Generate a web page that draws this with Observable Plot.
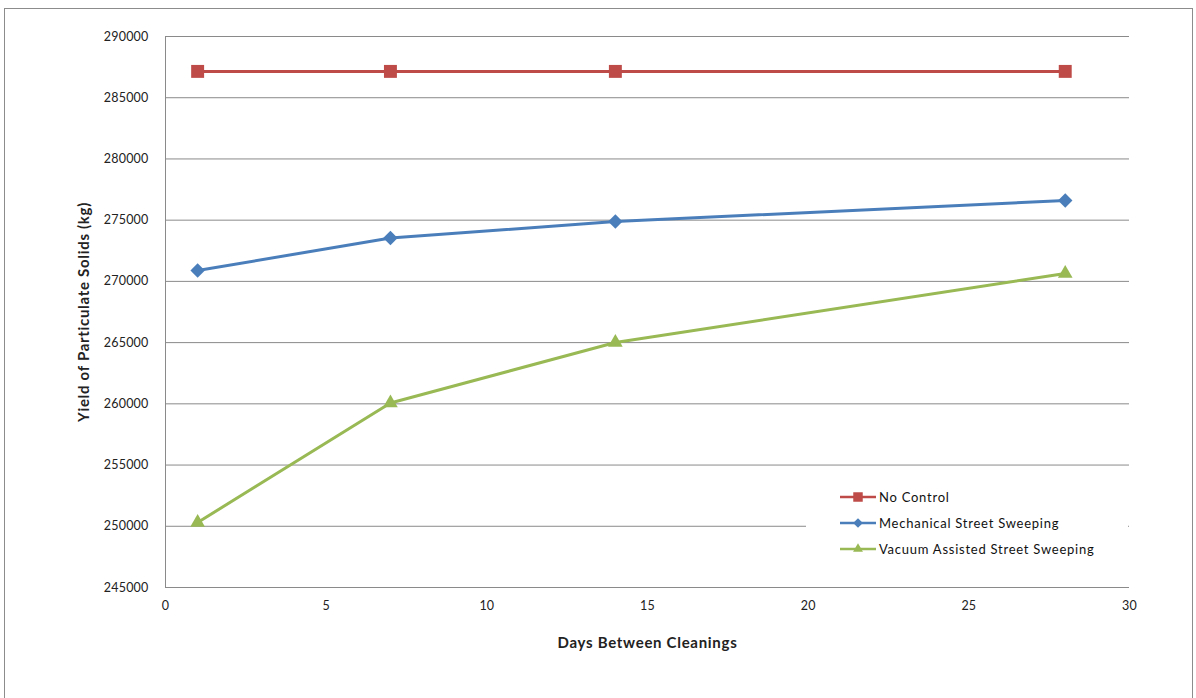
<!DOCTYPE html>
<html>
<head>
<meta charset="utf-8">
<script src="https://cdn.jsdelivr.net/npm/d3@7"></script>
<script src="https://cdn.jsdelivr.net/npm/@observablehq/plot@0.6"></script>
<style>
  html, body { margin: 0; padding: 0; background: #fff; }
  #wrap { position: relative; width: 1196px; height: 698px; overflow: hidden; font-family: Lato, "Open Sans", sans-serif; }
  #border { position: absolute; left: 4px; top: 8px; width: 1189px; height: 700px; border: 1px solid #8c8c8c; box-sizing: border-box; pointer-events: none; }
  #chart svg { display: block; }
  #chart [aria-label="x-axis label"] text, #chart [aria-label="y-axis label"] text { font-weight: bold; font-size: 15px; letter-spacing: 0.7px; }
  #chart [aria-label="x-axis tick label"] text, #chart [aria-label="y-axis tick label"] text { letter-spacing: 0.2px; }
  #legend { position: absolute; left: 806px; top: 480px; width: 322px; height: 82px; background: #fff; }
  .item { position: absolute; left: 34px; height: 20px; display: flex; align-items: center; font-size: 13px; letter-spacing: 0.75px; color: #111; }
  .item svg { margin-right: 3px; }
</style>
</head>
<body>
<div id="wrap">
  <div id="chart"></div>
  <div id="legend"></div>
  <div id="border"></div>
</div>
<script>
// Days between street cleanings
const days = [1, 7, 14, 28];
// Yield of particulate solids (kg) for each control strategy
const noControl = [287150, 287150, 287150, 287150];
const mechanical = [270890, 273540, 274890, 276610];
const vacuum = [250310, 260070, 265010, 270640];

const seriesNames = ["No Control", "Mechanical Street Sweeping", "Vacuum Assisted Street Sweeping"];
const seriesColors = ["#BE4B48", "#4A7EBB", "#98B954"];
const seriesSymbols = ["square", "diamond2", "triangle2"];
const seriesValues = [noControl, mechanical, vacuum];

const xTicks = [0, 5, 10, 15, 20, 25, 30];
const yTicks = [245000, 250000, 255000, 260000, 265000, 270000, 275000, 280000, 285000, 290000];

const rows = seriesNames.flatMap((name, i) =>
  days.map((d, j) => ({series: name, days: d, kg: seriesValues[i][j]}))
);

const marks = [
  Plot.ruleY(yTicks, {stroke: "#8a8a8a", strokeWidth: 1}),
  Plot.ruleX([0], {stroke: "#8a8a8a", strokeWidth: 1}),
  Plot.axisX(xTicks, {tickSize: 0, tickPadding: 14, fontSize: 12.5, label: "Days Between Cleanings", labelAnchor: "center", labelOffset: 60, labelArrow: "none"}),
  Plot.axisY(yTicks, {tickSize: 0, tickPadding: 17, fontSize: 12.5, tickFormat: d => String(d), label: "Yield of Particulate Solids (kg)", labelAnchor: "center", labelOffset: 87, labelArrow: "none"})
];
seriesNames.forEach((name, i) => {
  const data = rows.filter(r => r.series === name);
  marks.push(Plot.line(data, {x: "days", y: "kg", stroke: seriesColors[i], strokeWidth: 3}));
  marks.push(Plot.dot(data, {x: "days", y: "kg", fill: seriesColors[i], stroke: "none",
    symbol: () => seriesSymbols[i], r: i === 0 ? 7.3 : i === 1 ? 6.5 : 7}));
});

const chart = Plot.plot({
  width: 1196,
  height: 698,
  marginLeft: 165,
  marginRight: 67,
  marginTop: 36,
  marginBottom: 111,
  style: {fontFamily: "Lato, 'Open Sans', sans-serif", color: "#222", background: "transparent"},
  x: {domain: [0, 30]},
  y: {domain: [245000, 290000]},
  symbol: {type: "identity"},
  marks
});
document.getElementById("chart").append(chart);

// Legend entries: line sample with marker, then series name
const legend = document.getElementById("legend");
seriesNames.forEach((name, i) => {
  const item = document.createElement("div");
  item.className = "item";
  item.style.top = (7 + i * 26) + "px";
  const sw = d3.create("svg").attr("width", 36).attr("height", 14);
  sw.append("line").attr("x1", 0).attr("x2", 36).attr("y1", 7).attr("y2", 7)
    .attr("stroke", seriesColors[i]).attr("stroke-width", 2.5);
  const sym = [d3.symbolSquare, d3.symbolDiamond2, d3.symbolTriangle2][i];
  const size = [90, 60, 70][i];
  sw.append("path").attr("d", d3.symbol(sym, size)()).attr("transform", "translate(18,7)")
    .attr("fill", seriesColors[i]);
  item.append(sw.node());
  const label = document.createElement("span");
  label.textContent = name;
  item.append(label);
  legend.append(item);
});
</script>
</body>
</html>
